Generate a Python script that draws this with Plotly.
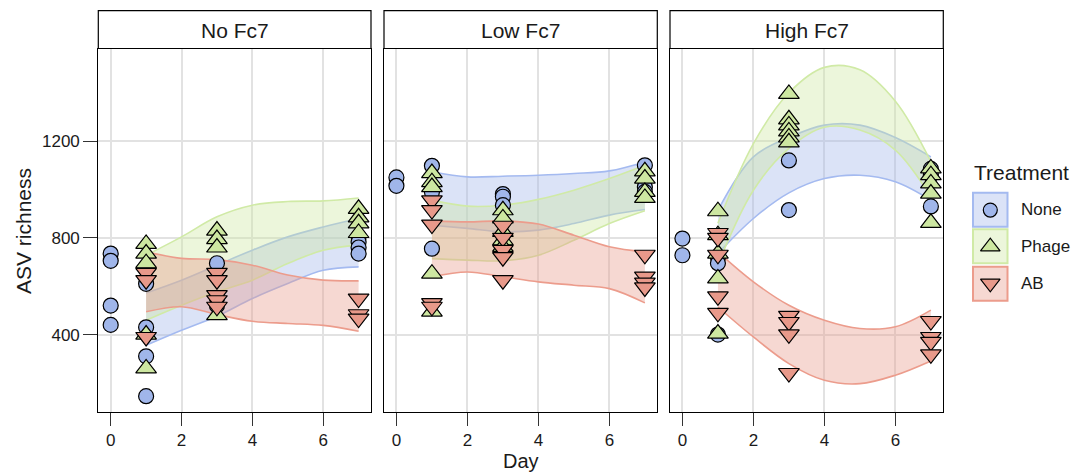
import plotly.graph_objects as go

# ---------------- data ----------------
panels = ["No Fc7", "Low Fc7", "High Fc7"]
treatments = ["None", "Phage", "AB"]
ribbon_days = [1, 2, 3, 4, 5, 6, 7]

# No Fc7
nofc7_none_day = [0, 0, 0, 0, 1, 1, 1, 1, 3, 3, 3, 7, 7, 7, 7]
nofc7_none_asv = [735, 705, 520, 440, 610, 430, 310, 145, 695, 550, 520, 805, 783, 760, 735]
nofc7_phage_day = [1, 1, 1, 1, 1, 3, 3, 3, 3, 7, 7, 7, 7]
nofc7_phage_asv = [775, 735, 695, 400, 260, 830, 795, 760, 480, 920, 885, 860, 820]
nofc7_ab_day = [1, 1, 1, 3, 3, 3, 3, 3, 7, 7, 7]
nofc7_ab_asv = [655, 625, 390, 655, 625, 563, 542, 515, 549, 484, 466]

# Low Fc7
lowfc7_none_day = [0, 0, 1, 1, 1, 3, 3, 3, 7, 7, 7]
lowfc7_none_asv = [1050, 1015, 1098, 990, 755, 981, 970, 935, 1100, 1010, 990]
lowfc7_phage_day = [1, 1, 1, 1, 1, 3, 3, 3, 3, 3, 7, 7, 7, 7]
lowfc7_phage_asv = [1068, 1030, 1010, 652, 495, 914, 880, 825, 790, 763, 1075, 1045, 990, 965]
lowfc7_ab_day = [1, 1, 1, 1, 1, 3, 3, 3, 3, 3, 7, 7, 7, 7]
lowfc7_ab_asv = [955, 915, 855, 530, 515, 850, 800, 750, 720, 625, 730, 640, 615, 595]

# High Fc7
highfc7_none_day = [0, 0, 1, 1, 1, 3, 3, 7, 7, 7]
highfc7_none_asv = [797, 728, 720, 695, 400, 1120, 915, 1085, 1060, 930]
highfc7_phage_day = [1, 1, 1, 1, 1, 3, 3, 3, 3, 3, 3, 7, 7, 7, 7, 7]
highfc7_phage_asv = [910, 811, 735, 632, 404, 1395, 1290, 1265, 1240, 1215, 1195, 1087, 1059, 1025, 983, 862]
highfc7_ab_day = [1, 1, 1, 1, 1, 3, 3, 3, 3, 7, 7, 7, 7]
highfc7_ab_asv = [820, 800, 730, 558, 490, 477, 452, 401, 241, 456, 390, 370, 318]

# smoother confidence bands (lower / upper) at ribbon_days
nofc7_none_lo = [356, 418, 476, 549, 611, 666, 680]
nofc7_none_hi = [572, 625, 687, 749, 804, 845, 880]
nofc7_phage_lo = [459, 521, 577, 625, 694, 749, 770]
nofc7_phage_hi = [728, 804, 887, 935, 950, 953, 965]
nofc7_ab_lo = [494, 515, 483, 455, 446, 438, 414]
nofc7_ab_hi = [742, 715, 710, 687, 646, 625, 622]

lowfc7_none_lo = [852, 839, 825, 832, 859, 894, 917]
lowfc7_none_hi = [1073, 1052, 1055, 1059, 1066, 1077, 1114]
lowfc7_phage_lo = [714, 708, 705, 728, 790, 859, 912]
lowfc7_phage_hi = [956, 931, 935, 959, 997, 1045, 1100]
lowfc7_ab_lo = [639, 659, 639, 618, 604, 590, 531]
lowfc7_ab_hi = [870, 866, 870, 857, 811, 763, 742]

highfc7_none_lo = [735, 880, 986, 1045, 1059, 1032, 956]
highfc7_none_hi = [914, 1135, 1215, 1266, 1266, 1215, 1135]
highfc7_phage_lo = [690, 997, 1170, 1257, 1246, 1163, 970]
highfc7_phage_hi = [860, 1190, 1400, 1505, 1495, 1365, 1115]
highfc7_ab_lo = [514, 390, 280, 211, 197, 232, 291]
highfc7_ab_hi = [742, 618, 521, 459, 425, 432, 501]

y_ticks = [400, 800, 1200]
x_ticks = [0, 2, 4, 6]

points = [
    [(nofc7_none_day, nofc7_none_asv), (nofc7_phage_day, nofc7_phage_asv), (nofc7_ab_day, nofc7_ab_asv)],
    [(lowfc7_none_day, lowfc7_none_asv), (lowfc7_phage_day, lowfc7_phage_asv), (lowfc7_ab_day, lowfc7_ab_asv)],
    [(highfc7_none_day, highfc7_none_asv), (highfc7_phage_day, highfc7_phage_asv), (highfc7_ab_day, highfc7_ab_asv)],
]
ribbons = [
    [(nofc7_none_lo, nofc7_none_hi), (nofc7_phage_lo, nofc7_phage_hi), (nofc7_ab_lo, nofc7_ab_hi)],
    [(lowfc7_none_lo, lowfc7_none_hi), (lowfc7_phage_lo, lowfc7_phage_hi), (lowfc7_ab_lo, lowfc7_ab_hi)],
    [(highfc7_none_lo, highfc7_none_hi), (highfc7_phage_lo, highfc7_phage_hi), (highfc7_ab_lo, highfc7_ab_hi)],
]

# ---------------- styles ----------------
fill_rgb = {"None": (160, 182, 234), "Phage": (205, 231, 161), "AB": (232, 153, 138)}
line_rgb = {"None": (164, 186, 240), "Phage": (208, 234, 166), "AB": (236, 156, 140)}
symbols = {"None": "circle", "Phage": "triangle-up", "AB": "triangle-down"}
sizes = {"None": 15, "Phage": 18, "AB": 18}
FONT = "Liberation Sans, Arial, sans-serif"
ALPHA = 0.38

def rgb(c):
    return "rgb(%d,%d,%d)" % c

def rgba(c, a):
    return "rgba(%d,%d,%d,%.2f)" % (c[0], c[1], c[2], a)

# the page body has an 8px margin; work in window pixels and convert
OFF = 8
W, H = 1085 - OFF, 472 - OFF
def fx(x):
    return (x - OFF) / W
def fy(y):
    return 1 - (y - OFF) / H

panel_px = [(98.3, 371.0), (384.0, 657.3), (670.0, 943.3)]
top_px, bot_px = 48.5, 411.7
strip_top = 10.7

fig = go.Figure()

for i in range(3):
    ax = "" if i == 0 else str(i + 1)
    xa, ya = "x" + ax, "y" + ax
    for j, t in enumerate(treatments):
        lo, hi = ribbons[i][j]
        fig.add_trace(go.Scatter(x=ribbon_days, y=lo, xaxis=xa, yaxis=ya, mode="lines",
                                 line=dict(color=rgb(line_rgb[t]), width=1.6, shape="spline"),
                                 showlegend=False, hoverinfo="skip"))
        fig.add_trace(go.Scatter(x=ribbon_days, y=hi, xaxis=xa, yaxis=ya, mode="lines",
                                 line=dict(color=rgb(line_rgb[t]), width=1.6, shape="spline"),
                                 fill="tonexty", fillcolor=rgba(fill_rgb[t], ALPHA),
                                 showlegend=False, hoverinfo="skip"))
    for j, t in enumerate(treatments):
        d, v = points[i][j]
        fig.add_trace(go.Scatter(x=d, y=v, xaxis=xa, yaxis=ya, mode="markers",
                                 marker=dict(symbol=symbols[t], size=sizes[t], color=rgb(fill_rgb[t]),
                                             line=dict(color="black", width=1.2)),
                                 showlegend=False, name=t))

# legend keys (markers on a hidden helper axis)
for j, t in enumerate(treatments):
    fig.add_trace(go.Scatter(x=[0.5], y=[2.5 - j], xaxis="x4", yaxis="y4", mode="markers",
                             marker=dict(symbol=symbols[t], size=sizes[t] - 1, color=rgb(fill_rgb[t]),
                                         line=dict(color="black", width=1.2)),
                             showlegend=False, hoverinfo="skip"))

axis_common = dict(showline=True, mirror=True, linecolor="black", linewidth=1.2,
                   showgrid=True, gridcolor="#e2e2e2", gridwidth=1.5, zeroline=False)

layout = dict(width=W, height=H, margin=dict(l=0, r=0, t=0, b=0, autoexpand=False),
              paper_bgcolor="white", plot_bgcolor="white",
              font=dict(family=FONT, color="#1a1a1a"), showlegend=False)

for i in range(3):
    ax = "" if i == 0 else str(i + 1)
    x0, x1 = panel_px[i]
    layout["xaxis" + ax] = dict(domain=[fx(x0), fx(x1)], range=[-0.35, 7.35], anchor="y" + ax,
                                tickvals=x_ticks, ticks="outside", ticklen=13, tickwidth=1.3,
                                tickcolor="#333333", tickfont=dict(size=17, color="#1a1a1a"),
                                **axis_common)
    ydict = dict(domain=[fy(bot_px), fy(top_px)], range=[81, 1583], anchor="x" + ax,
                 tickvals=y_ticks, **axis_common)
    if i == 0:
        ydict.update(ticks="outside", ticklen=14, tickwidth=1.3, tickcolor="#333333",
                     tickfont=dict(size=17, color="#1a1a1a"))
    else:
        ydict.update(showticklabels=False, ticks="", matches="y")
    layout["yaxis" + ax] = ydict

layout["xaxis4"] = dict(domain=[fx(972.3), fx(1008.3)], range=[0, 1], visible=False, anchor="y4")
layout["yaxis4"] = dict(domain=[fy(301.7), fy(191.7)], range=[0, 3], visible=False, anchor="x4")

shapes = []
annotations = []
for i in range(3):
    x0, x1 = panel_px[i]
    shapes.append(dict(type="rect", xref="paper", yref="paper", x0=fx(x0), x1=fx(x1),
                       y0=fy(top_px), y1=fy(strip_top), fillcolor="white",
                       line=dict(color="black", width=1.2), layer="above"))
    annotations.append(dict(text=panels[i], xref="paper", yref="paper", x=fx((x0 + x1) / 2),
                            y=fy(30), showarrow=False, xanchor="center", yanchor="middle",
                            font=dict(size=21, color="#1a1a1a", family=FONT)))

# legend boxes
key_tops = [191.7, 228.3, 265.7]
for j, t in enumerate(treatments):
    shapes.append(dict(type="rect", xref="paper", yref="paper", x0=fx(973), x1=fx(1007.5),
                       y0=fy(key_tops[j] + 35), y1=fy(key_tops[j] + 1),
                       fillcolor=rgba(fill_rgb[t], ALPHA), line=dict(color=rgb(line_rgb[t]), width=2),
                       layer="below"))
    annotations.append(dict(text=t, xref="paper", yref="paper", x=fx(1019), y=fy(key_tops[j] + 18),
                            showarrow=False, xanchor="left", yanchor="middle",
                            font=dict(size=17, color="#1a1a1a", family=FONT)))

annotations.append(dict(text="Treatment", xref="paper", yref="paper", x=fx(972), y=fy(172),
                        showarrow=False, xanchor="left", yanchor="middle",
                        font=dict(size=21, color="#1a1a1a", family=FONT)))
annotations.append(dict(text="ASV richness", xref="paper", yref="paper", x=fx(23), y=fy(231),
                        showarrow=False, textangle=-90, xanchor="center", yanchor="middle",
                        font=dict(size=21, color="#1a1a1a", family=FONT)))
annotations.append(dict(text="Day", xref="paper", yref="paper", x=fx(521), y=fy(461),
                        showarrow=False, xanchor="center", yanchor="middle", borderpad=0,
                        font=dict(size=20, color="#1a1a1a", family=FONT)))

layout["shapes"] = shapes
layout["annotations"] = annotations
fig.update_layout(**layout)

fig.write_html("out.html")
